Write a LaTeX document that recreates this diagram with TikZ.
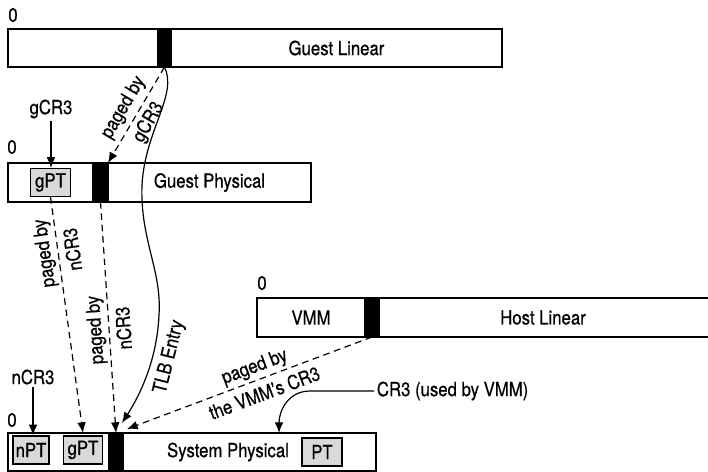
\documentclass[tikz,border=0pt]{standalone}
\usepackage{fontspec}
\setmainfont[FakeStretch=0.86, FakeBold=0.6]{TeX Gyre Heros}
\usetikzlibrary{positioning, arrows.meta}
\definecolor{ptgray}{RGB}{217,217,217}

\begin{document}
\begin{tikzpicture}[x=0.75pt, y=-0.75pt,
  seg/.style={rectangle, draw=black, fill=white, line width=1.2pt,
              inner sep=0pt, outer sep=0pt, minimum height=28.5pt,
              font=\fontsize{14.6}{21}\selectfont},
  blk/.style={rectangle, draw=black, fill=black, line width=1.2pt,
              inner sep=0pt, outer sep=0pt, minimum height=28.5pt},
  ptbox/.style={rectangle, draw=black, fill=ptgray, line width=0.9pt,
                inner sep=0pt, minimum height=21pt,
                font=\fontsize{14.6}{21}\selectfont},
  lbl/.style={inner sep=2pt, align=center, font=\fontsize{14.6}{22}\selectfont},
  arr/.style={-{Latex[length=8pt, width=6.5pt]}, line width=0.9pt},
  dsh/.style={arr, dash pattern=on 5pt off 3.5pt},
  upsl/.style={sloped, rotate=180}
]
\useasboundingbox (0,0) rectangle (708,472);

% === Guest Linear ============================================================
\node[lbl]                                       (Z1)  at (13,15)  {0};
\node[seg, anchor=west, minimum width=112.5pt]   (GL0) at (8,48)   {};
\node[blk, right=0pt of GL0, minimum width=9.75pt]  (GL1) {};
\node[seg, right=0pt of GL1, minimum width=248.25pt] (GL2) {Guest Linear};

% === Guest Physical ==========================================================
\node[lbl]                                       (Z2)  at (12,147) {0};
\node[seg, anchor=west, minimum width=63.75pt, minimum height=29.25pt] (GP0) at (8,182.5) {};
\node[blk, right=0pt of GP0, minimum width=11.25pt, minimum height=29.25pt] (GP1) {};
\node[seg, right=0pt of GP1, minimum width=152.25pt, minimum height=29.25pt] (GP2) {Guest Physical};
\node[ptbox, minimum width=30pt]                 (gPTg) at (GP0)    {gPT};
\node[lbl]                                       (gCR3) at (51,109) {gCR3};

% === Host Linear =============================================================
\node[lbl]                                       (Z3)  at (262,283) {0};
\node[seg, anchor=west, minimum width=81pt, minimum height=29.25pt] (HL0) at (257,317.5) {VMM};
\node[blk, right=0pt of HL0, minimum width=10.5pt, minimum height=29.25pt] (HL1) {};
\node[seg, right=0pt of HL1, minimum width=255pt, minimum height=29.25pt] (HL2) {};
\node[lbl]                                       (HLt) at (543,317.5) {Host Linear};

% === System Physical =========================================================
\node[lbl]                                       (Z4)  at (12,420) {0};
\node[seg, anchor=west, minimum width=75.75pt]   (SP0) at (8,452)  {};
\node[blk, right=0pt of SP0, minimum width=10.5pt]  (SP1) {};
\node[seg, right=0pt of SP1, minimum width=189.75pt] (SP2) {};
\node[ptbox, minimum width=27pt]                 (nPT)  at (31,450)  {nPT};
\node[ptbox, minimum width=29.25pt]              (gPTs) at (83,450)  {gPT};
\node[lbl]                                       (SPt)  at (228,452) {System Physical};
\node[ptbox, minimum width=30pt]                 (PT)   at (322,452) {PT};
\node[lbl]                                       (nCR3) at (33,377)  {nCR3};
\node[lbl, anchor=west]                          (CR3)  at (374,391) {CR3 (used by VMM)};
\coordinate (cr3tip) at (279,433);

% === Connectors ==============================================================
\draw[arr] (gCR3.south) -- (gCR3.south |- gPTg.north);
\draw[arr] (nCR3.south) -- (nCR3.south |- nPT.north);

% guest linear -> guest physical
\draw[dsh] (GL1.south) -- node[lbl, sloped, pos=0.5]{paged by\\gCR3} (GP1.north east);

% guest physical -> system physical
\draw[dsh] (gPTg.south) -- node[lbl, upsl, pos=0.23]{paged by\\nCR3} (gPTs.north |- SP0.north);
\draw[dsh] (GP1.south) -- node[lbl, upsl, pos=0.55]{paged by\\nCR3} (SP1.north);

% TLB shortcut
\draw[arr] (GL1.south) .. controls (178,95) and (145,130) .. (142,185)
           .. controls (140,240) and (162,270) .. (159,315)
           .. controls (157,360) and (140,395) .. node[lbl, sloped, below=3pt, pos=0.3]{TLB Entry}
           ([shift={(-1,-10)}]SP1.north east);

% host linear -> system physical
\draw[dsh] (HL1.south) -- node[lbl, sloped, pos=0.46]{paged by\\the VMM’s CR3}
           ([shift={(4,-4)}]SP1.north east);

% CR3 used by the VMM
\draw[arr] (CR3.west) -- ++(-64,0) .. controls +(-22,0) and +(0,-22) .. (cr3tip);

\end{tikzpicture}
\end{document}
